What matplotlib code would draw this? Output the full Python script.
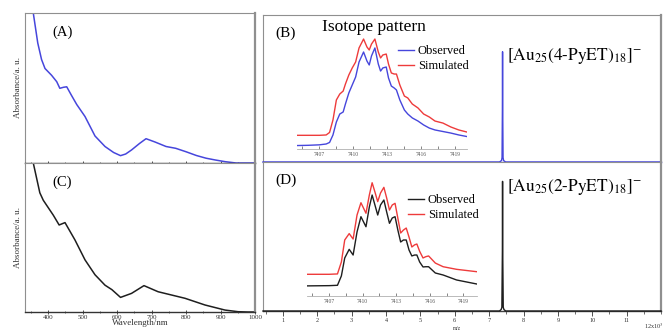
import matplotlib.pyplot as plt
from matplotlib.ticker import MultipleLocator

plt.rcParams['font.family'] = ['Liberation Serif', 'DejaVu Serif']
plt.rcParams['mathtext.fontset'] = 'stix'
plt.rcParams['lines.solid_joinstyle'] = 'round'

# UV-vis spectra (A: 4-PyET, C: 2-PyET)
wl_a = [345, 357, 370, 381, 391, 410, 425, 434, 445, 454, 468, 483, 507, 536,
        565, 590, 610, 625, 642, 665, 684, 710, 742, 770, 800, 830, 858, 885,
        913, 945, 980, 1000]
abs_a = [1.2, 1.0, 0.80, 0.69, 0.63, 0.585, 0.542, 0.498, 0.505, 0.508, 0.45,
         0.39, 0.31, 0.18, 0.11, 0.07, 0.049, 0.06, 0.087, 0.13, 0.162, 0.14,
         0.11, 0.098, 0.075, 0.05, 0.032, 0.02, 0.009, 0.0, 0.0, 0.0]

wl_c = [345, 357, 376, 386, 415, 432, 449, 478, 507, 536, 565, 585, 610, 642,
        678, 719, 758, 797, 855, 913, 951, 980, 1000]
abs_c = [1.2, 1.0, 0.80, 0.75, 0.65, 0.584, 0.60, 0.483, 0.35, 0.25, 0.18,
         0.15, 0.098, 0.125, 0.177, 0.136, 0.114, 0.092, 0.047, 0.013, 0.002,
         0.0, 0.0]

# ESI mass spectra, m/z in 10^3
mz_b = [0.42, 7.30, 7.36, 7.375, 7.385, 7.39, 7.395, 7.405, 7.42, 7.48, 12.0]
int_b = [0.0, 0.0, 0.01, 0.03, 0.35, 0.75, 0.35, 0.03, 0.01, 0.0, 0.0]
mz_d = [0.42, 7.30, 7.35, 7.37, 7.385, 7.39, 7.395, 7.41, 7.43, 7.48, 12.0]
int_d = [0.0, 0.0, 0.01, 0.025, 0.4, 0.87, 0.4, 0.025, 0.01, 0.0, 0.0]

# isotope patterns (inset), relative intensity
iso_mz_b = [7405.0, 7406.0, 7407.0, 7407.6, 7407.9, 7408.2, 7408.5, 7408.8,
            7409.1, 7409.3, 7409.6, 7409.9, 7410.2, 7410.5, 7410.9, 7411.2,
            7411.4, 7411.6, 7411.9, 7412.2, 7412.4, 7412.6, 7412.9, 7413.1,
            7413.35, 7413.6, 7413.8, 7414.1, 7414.5, 7414.8, 7415.2, 7415.7,
            7416.2, 7416.7, 7417.2, 7417.9, 7418.6, 7419.3, 7420.0]
sim_b = [11.5, 11.5, 11.5, 11.8, 13.9, 24.4, 41.2, 46.2, 48.7, 54.6, 62.2,
         68.1, 73.1, 84.9, 92.4, 85.7, 83.2, 88.2, 92.4, 81.5, 76.5, 79.0,
         79.8, 71.4, 63.9, 63.0, 63.0, 53.8, 44.5, 42.9, 37.8, 34.5, 29.4,
         26.9, 23.5, 21.8, 18.5, 16.0, 14.3]
obs_b = [2.9, 3.1, 3.5, 4.2, 5.5, 11.8, 22.7, 29.4, 31.1, 37.8, 47.1, 53.8,
         60.5, 73.1, 81.5, 73.9, 70.6, 78.2, 84.9, 71.4, 65.5, 68.1, 68.9,
         59.7, 52.9, 51.3, 49.6, 41.2, 32.8, 29.4, 26.1, 23.5, 20.2, 17.6,
         16.0, 14.7, 13.4, 11.8, 10.5]

iso_mz_d = [7405.0, 7407.0, 7407.75, 7408.1, 7408.4, 7408.8, 7409.15, 7409.5,
            7409.85, 7410.3, 7410.6, 7410.85, 7411.1, 7411.35, 7411.6, 7411.9,
            7412.15, 7412.4, 7412.65, 7412.9, 7413.15, 7413.4, 7413.65, 7413.9,
            7414.15, 7414.4, 7414.65, 7414.85, 7415.1, 7415.4, 7415.65, 7415.9,
            7416.5, 7417.2, 7418.4, 7419.3, 7420.2]
sim_d = [18.6, 18.6, 18.9, 29.0, 47.6, 53.0, 48.4, 68.7, 79.1, 70.2, 85.6,
         96.0, 88.2, 80.0, 87.3, 92.1, 83.1, 72.9, 77.2, 78.6, 66.0, 53.5,
         56.0, 57.7, 50.0, 41.7, 43.5, 44.2, 38.0, 32.4, 33.5, 34.1, 28.1,
         25.0, 22.8, 21.8, 20.8]
obs_d = [8.8, 9.0, 9.3, 17.2, 32.4, 39.7, 34.9, 54.4, 67.3, 58.8, 75.5, 85.6,
         77.2, 68.7, 77.2, 81.4, 71.3, 61.7, 66.2, 67.3, 56.0, 45.9, 47.6,
         47.6, 39.1, 34.1, 34.9, 34.9, 29.0, 24.8, 25.0, 25.0, 19.7, 18.0,
         13.8, 12.1, 10.4]

iso_ticks = [7407, 7410, 7413, 7416, 7419]

blue = '#4646dc'
red = '#ee3b3b'
black = '#1e1e1e'
frame = '#8f8f8f'

W, H = 665, 332
fig = plt.figure(figsize=(W / 100, H / 100), dpi=100)


def box(x0, y0, x1, y1):
    # pixel box (top-left origin) -> figure fraction
    return [x0 / W, 1 - y1 / H, (x1 - x0) / W, (y1 - y0) / H]


def style_frame(ax, bottom_color):
    for s in ['top', 'left']:
        ax.spines[s].set_color(frame)
        ax.spines[s].set_linewidth(0.8)
    ax.spines['right'].set_color(frame)
    ax.spines['right'].set_linewidth(1.6)
    ax.spines['bottom'].set_color(bottom_color)
    ax.spines['bottom'].set_linewidth(1.0)
    ax.set_yticks([])


# ---- UV-vis panels
for rect, wl, ab, col, lab, last in [((25, 13, 255, 163), wl_a, abs_a, blue, '(A)', False),
                                     ((25, 163, 255, 312), wl_c, abs_c, black, '(C)', True)]:
    ax = fig.add_axes(box(*rect))
    ax.plot(wl, ab, color=col, lw=1.1)
    ax.set_xlim(333, 1000)
    ax.set_ylim(0, 1)
    style_frame(ax, '#333333')
    ax.xaxis.set_major_locator(MultipleLocator(100))
    ax.xaxis.set_minor_locator(MultipleLocator(50))
    ax.tick_params(axis='x', which='major', direction='inout', length=3, width=0.6,
                   labelsize=5, pad=1, labelbottom=last, colors='#333333')
    ax.tick_params(axis='x', which='minor', direction='inout', length=2, width=0.5,
                   colors='#333333')
    ax.set_ylabel('Absorbance/a. u.', fontsize=6.5, labelpad=2, color='#333333')
    ax.text(0.12, 0.87, lab, transform=ax.transAxes, fontsize=10.5, va='center')
    if last:
        ax.set_xlabel('Wavelength/nm', fontsize=6.5, labelpad=-1, color='#333333')

# ---- mass spectra panels
ax_b = fig.add_axes(box(263, 15, 661, 162))
ax_d = fig.add_axes(box(263, 162, 661, 311))
for ax, mz, it, col, lab, formula, ty, last in [
        (ax_b, mz_b, int_b, blue, '(B)', r'$[\mathrm{Au}_{25}(4\text{-}\mathrm{PyET})_{18}]^{-}$', 0.72, False),
        (ax_d, mz_d, int_d, black, '(D)', r'$[\mathrm{Au}_{25}(2\text{-}\mathrm{PyET})_{18}]^{-}$', 0.83, True)]:
    ax.plot(mz, it, color=col, lw=1.0, clip_on=False, zorder=5)
    ax.set_xlim(0.42, 12.0)
    ax.set_ylim(0, 1)
    style_frame(ax, '#444444' if last else col)
    ax.xaxis.set_major_locator(MultipleLocator(1))
    ax.xaxis.set_minor_locator(MultipleLocator(0.5))
    ax.tick_params(axis='x', which='major', direction='out', length=3.5, width=0.6,
                   labelsize=4.5, pad=1.5, labelbottom=last, colors='#333333')
    ax.tick_params(axis='x', which='minor', direction='out', length=1.8, width=0.5,
                   colors='#333333')
    ax.text(0.03, 0.875, lab, transform=ax.transAxes, fontsize=11, va='center')
    ax.text(7.52, ty, formula, fontsize=12.5, va='center', ha='left')

ax_d.set_xticks(range(1, 12))
ax_d.set_xticklabels([str(k) for k in range(1, 12)])
fig.text(664 / W, 1 - 326 / H, '12x10$^3$', fontsize=4.5, ha='right', va='center',
         color='#333333')
fig.text(457 / W, 1 - 329 / H, 'm/z', fontsize=4, ha='center', va='center', color='#333333')
ax_b.text(0.148, 0.918, 'Isotope pattern', transform=ax_b.transAxes, fontsize=12.5, va='center')

# ---- isotope insets
for rect, mz, obs, sim, col, xr, leg_xy in [
        ((296.7, 30, 466.7, 149), iso_mz_b, obs_b, sim_b, blue, (7405, 7420), (398, 45)),
        ((306.7, 178, 476.7, 296.3), iso_mz_d, obs_d, sim_d, black, (7405, 7420.2), (408, 194))]:
    ins = fig.add_axes(box(*rect))
    ins.patch.set_alpha(0)
    ins.plot(mz, obs, color=col, lw=1.0, label='Observed')
    ins.plot(mz, sim, color=red, lw=1.0, label='Simulated')
    ins.set_xlim(*xr)
    ins.set_ylim(0, 100)
    for s in ['top', 'left', 'right']:
        ins.spines[s].set_visible(False)
    ins.spines['bottom'].set_color('#b0b0b0')
    ins.spines['bottom'].set_linewidth(0.6)
    ins.set_yticks([])
    ins.set_xticks(iso_ticks)
    ins.set_xticklabels([str(t) for t in iso_ticks])
    ins.xaxis.set_minor_locator(MultipleLocator(1.5))
    ins.tick_params(axis='x', which='both', direction='in', length=2, width=0.5,
                    labelsize=4, pad=2, colors='#555555')
    ins.legend(loc='upper left', bbox_to_anchor=(leg_xy[0] / W, 1 - leg_xy[1] / H),
               bbox_transform=fig.transFigure, frameon=False, fontsize=9,
               handlelength=1.3, handletextpad=0.3, labelspacing=0.25,
               borderpad=0, borderaxespad=0)

fig.savefig('out.png', dpi=100)
